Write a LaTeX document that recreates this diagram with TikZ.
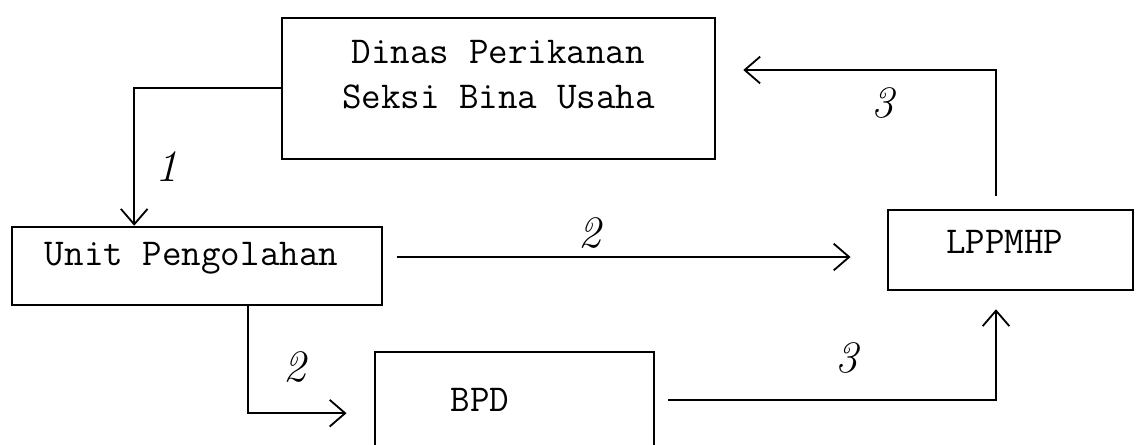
\documentclass[tikz,border=0pt]{standalone}
\usepackage{tikz}
\usetikzlibrary{arrows.meta, positioning}

\begin{document}
\begin{tikzpicture}[
  box/.style={
    rectangle, draw=black, line width=1.8pt,
    minimum width=#1, inner sep=0pt,
  },
  every label/.style={font=\fontsize{27}{32}\selectfont\ttfamily, align=center},
  arr/.style={-{Straight Barb[length=11pt, width=19pt, line width=1.3pt]}, line width=1.3pt},
  num/.style={font=\fontsize{32}{38}\selectfont\itshape},
]
\clip (0,0) rectangle (28.4,-11.1);

\node[box=10.83cm, minimum height=3.53cm,
  label={[name=dinastxt, yshift=0.34cm]center:Dinas Perikanan\\Seksi Bina Usaha}]
  (dinas) at (12.46,-2.21) {};
\node[box=9.25cm, minimum height=1.95cm,
  label={[name=unittxt, xshift=-0.14cm, yshift=0.2cm]center:Unit Pengolahan}]
  (unit) at (4.93,-6.65) {};
\node[box=6.13cm, minimum height=2.0cm,
  label={[name=lppmhptxt, xshift=-0.14cm, yshift=0.2cm]center:LPPMHP}]
  (lppmhp) at (25.26,-6.25) {};
\node[box=6.98cm, minimum height=2.95cm,
  label={[name=bpdtxt, xshift=-0.86cm, yshift=0.275cm]center:BPD}]
  (bpd) at (12.86,-10.28) {};

% Arrows
\draw[arr] (dinas.west) -| ([xshift=-1.575cm]unit.north);
\draw[arr] ([xshift=0.33cm, yshift=0.225cm]unit.east) coordinate (u2)
  -- ([xshift=-0.9cm]lppmhp.west |- u2);
\draw[arr] ([xshift=1.275cm]unit.south) |- ([xshift=-0.675cm, yshift=-0.05cm]bpd.west);
\draw[arr] ([xshift=0.325cm, yshift=0.275cm]bpd.east) -| ([xshift=-0.36cm, yshift=-0.45cm]lppmhp.south);
\draw[arr] ([xshift=-0.36cm, yshift=0.325cm]lppmhp.north) |- ([xshift=0.675cm, yshift=0.46cm]dinas.east);

% Arrow labels
\node[num] (n1)  at (4.175,-4.175) {1};
\node[num] (n2a) at (14.75,-5.825) {2};
\node[num] (n2b) at (7.375,-9.175) {2};
\node[num] (n3a) at (21.175,-8.95) {3};
\node[num] (n3b) at (22.075,-2.575) {3};

\end{tikzpicture}
\end{document}
